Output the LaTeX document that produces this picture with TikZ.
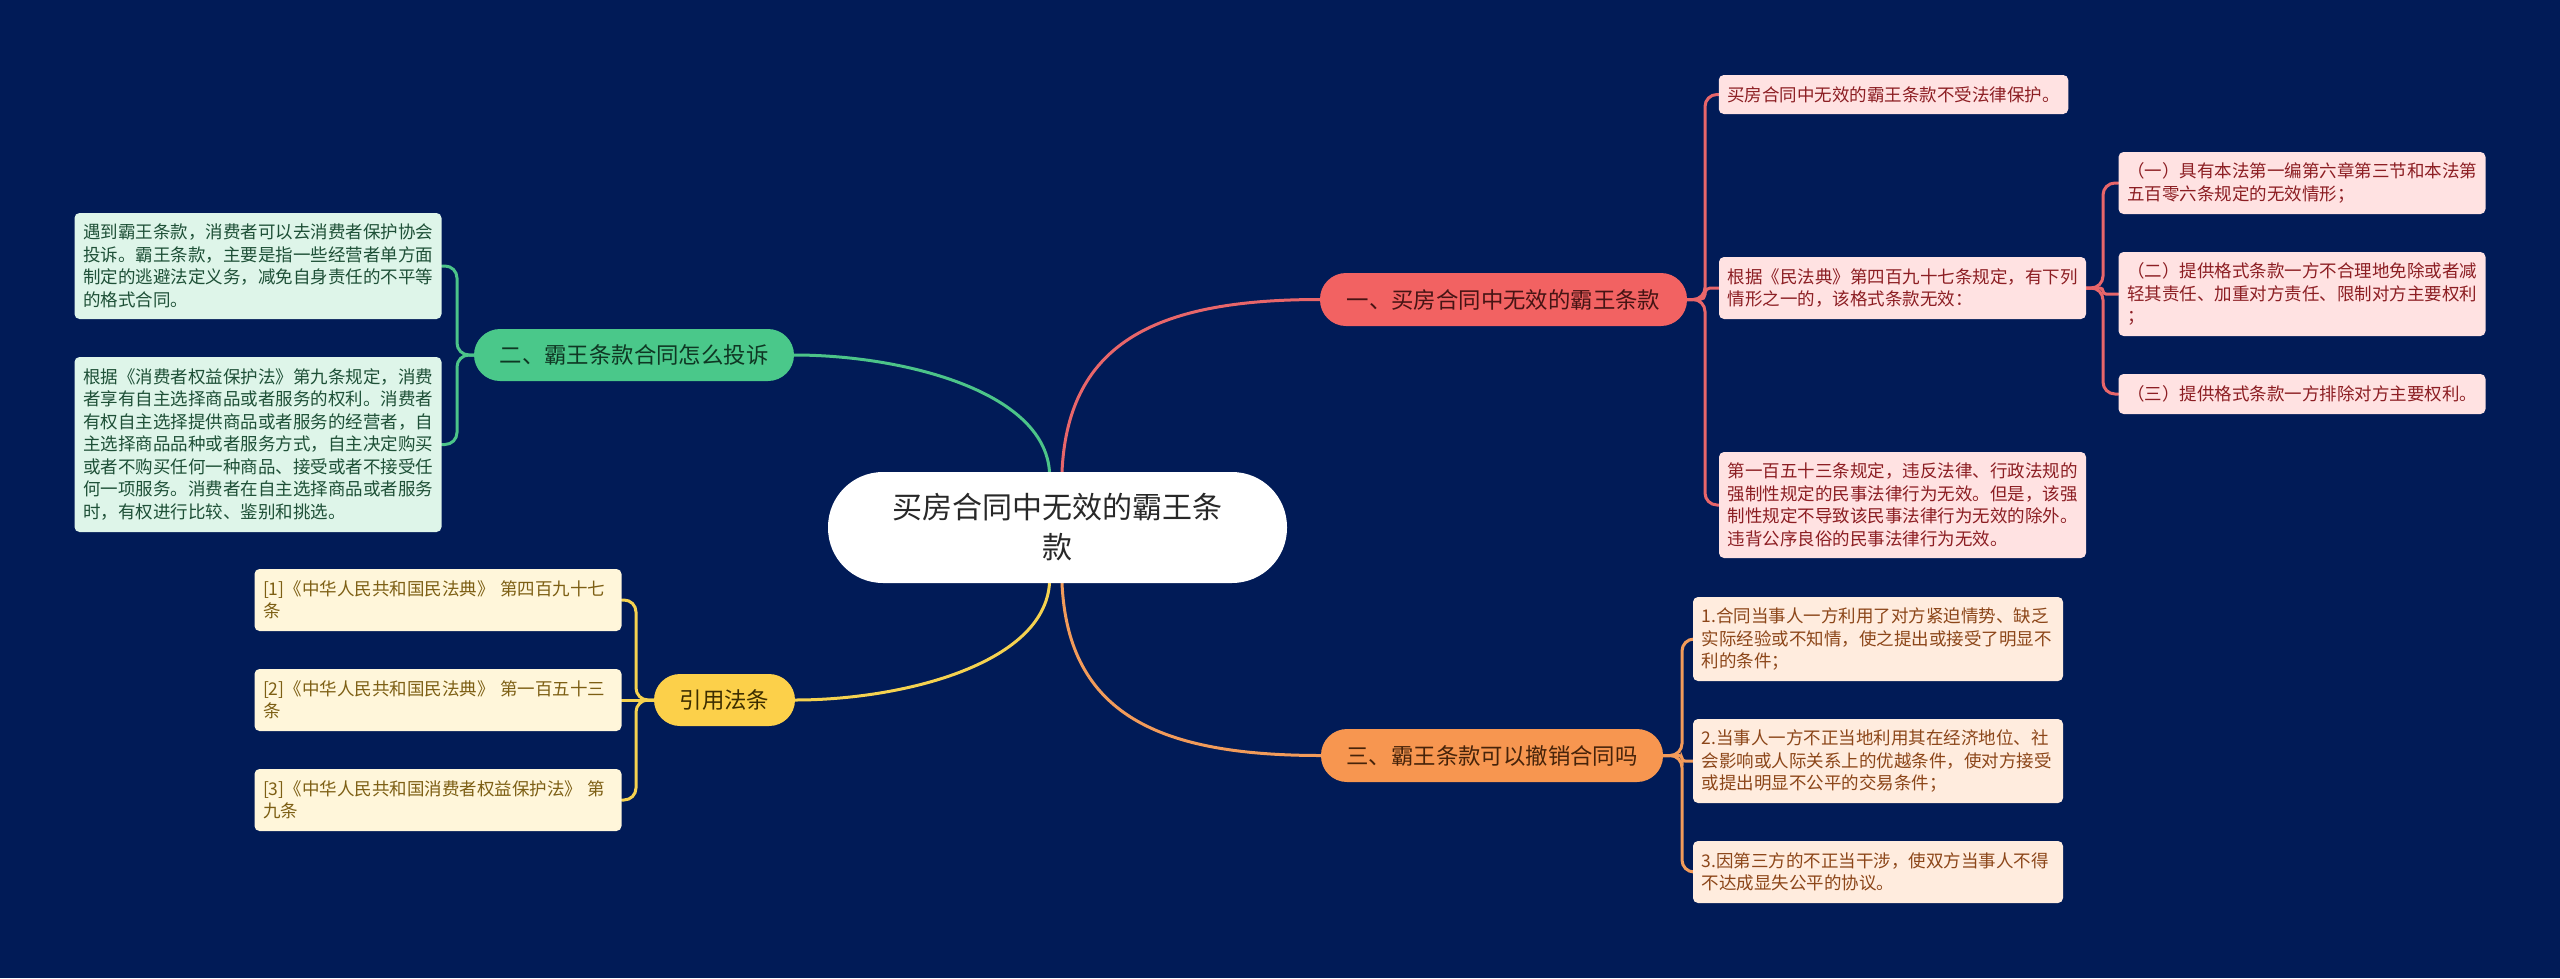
\documentclass[tikz,border=0pt]{standalone}
\usepackage{fontspec}
\setmainfont{Noto Sans CJK SC}
\usetikzlibrary{calc}
\definecolor{bgc}{RGB}{1,27,87}
\definecolor{pinkfill}{RGB}{255,226,226}
\definecolor{pinktext}{RGB}{140,30,35}
\definecolor{peachfill}{RGB}{255,236,222}
\definecolor{peachtext}{RGB}{140,70,25}
\definecolor{greenfill}{RGB}{222,245,233}
\definecolor{greentext}{RGB}{30,80,55}
\definecolor{yellowfill}{RGB}{255,246,218}
\definecolor{yellowtext}{RGB}{125,95,20}
\definecolor{bredfill}{RGB}{242,98,98}
\definecolor{bredtext}{RGB}{70,20,20}
\definecolor{borgfill}{RGB}{247,150,80}
\definecolor{borgtext}{RGB}{70,35,10}
\definecolor{bgrnfill}{RGB}{74,200,138}
\definecolor{bgrntext}{RGB}{15,55,35}
\definecolor{byelfill}{RGB}{252,208,74}
\definecolor{byeltext}{RGB}{60,45,0}
\definecolor{redline}{RGB}{232,102,106}
\definecolor{orgline}{RGB}{242,155,90}
\definecolor{grnline}{RGB}{76,196,137}
\definecolor{yelline}{RGB}{245,210,80}
\pgfdeclarelayer{bgl}
\pgfdeclarelayer{lines}
\pgfsetlayers{bgl,lines,main}
\begin{document}
\begin{tikzpicture}[x=1pt,y=-1pt,
  leaf/.style={rounded corners=5pt, inner xsep=8.5pt, inner ysep=0pt, align=left,
    text width=350pt, font=\fontsize{17.5}{22.5}\selectfont},
  pinkleaf/.style={leaf, fill=pinkfill, text=pinktext},
  peachleaf/.style={leaf, fill=peachfill, text=peachtext},
  greenleaf/.style={leaf, fill=greenfill, text=greentext},
  yellowleaf/.style={leaf, fill=yellowfill, text=yellowtext},
  branch/.style={rounded corners=26pt, inner sep=0pt, minimum height=53pt,
    font=\fontsize{22.4}{27}\selectfont},
  conn/.style={line width=3pt, line cap=round},
  bconn/.style={conn, rounded corners=12pt}
]
\begin{pgfonlayer}{bgl}
\fill[bgc] (0,0) rectangle (2560,978);
\end{pgfonlayer}
\useasboundingbox (0,0) rectangle (2560,978);

% center
\node[fill=white, rounded corners=55pt, minimum width=459pt, minimum height=111pt,
  inner sep=0pt, align=center, text={rgb,255:red,40;green,40;blue,40},
  font=\fontsize{30}{40}\selectfont] (c) at (1057.5,527.5) {买房合同中无效的霸王条\\款};

% branches
\node[branch, fill=bredfill, text=bredtext, minimum width=367pt] (b1) at (1503.5,299.5) {一、买房合同中无效的霸王条款};
\node[branch, fill=borgfill, text=borgtext, minimum width=342pt] (b3) at (1492,755.5) {三、霸王条款可以撤销合同吗};
\node[branch, fill=bgrnfill, text=bgrntext, minimum width=320pt, minimum height=52pt] (b2) at (634,355) {二、霸王条款合同怎么投诉};
\node[branch, fill=byelfill, text=byeltext, minimum width=141pt, minimum height=52pt] (b4) at (724.5,700) {引用法条};

% branch 1 leaves
\node[pinkleaf, text width=332.5pt, minimum height=39pt] (l1a) at (1893.5,94.5) {买房合同中无效的霸王条款不受法律保护。};
\node[pinkleaf, minimum height=62pt] (l1b) at (1902.5,288) {根据《民法典》第四百九十七条规定，有下列\\情形之一的，该格式条款无效：};
\node[pinkleaf, minimum height=106pt] (l1c) at (1902.5,505) {第一百五十三条规定，违反法律、行政法规的\\强制性规定的民事法律行为无效。但是，该强\\制性规定不导致该民事法律行为无效的除外。\\违背公序良俗的民事法律行为无效。};
\node[pinkleaf, minimum height=62pt] (s1) at (2302,183) {（一）具有本法第一编第六章第三节和本法第\\五百零六条规定的无效情形；};
\node[pinkleaf, minimum height=84pt] (s2) at (2302,294) {（二）提供格式条款一方不合理地免除或者减\\轻其责任、加重对方责任、限制对方主要权利\\；};
\node[pinkleaf, minimum height=40pt] (s3) at (2302,394) {（三）提供格式条款一方排除对方主要权利。};

% branch 3 leaves
\node[peachleaf, text width=353pt, minimum height=84pt] (l3a) at (1878,639) {1.合同当事人一方利用了对方紧迫情势、缺乏\\实际经验或不知情，使之提出或接受了明显不\\利的条件；};
\node[peachleaf, text width=353pt, minimum height=84pt] (l3b) at (1878,761) {2.当事人一方不正当地利用其在经济地位、社\\会影响或人际关系上的优越条件，使对方接受\\或提出明显不公平的交易条件；};
\node[peachleaf, text width=353pt, minimum height=62pt] (l3c) at (1878,872) {3.因第三方的不正当干涉，使双方当事人不得\\不达成显失公平的协议。};

% branch 2 leaves
\node[greenleaf, minimum height=106pt] (l2a) at (258,266) {遇到霸王条款，消费者可以去消费者保护协会\\投诉。霸王条款，主要是指一些经营者单方面\\制定的逃避法定义务，减免自身责任的不平等\\的格式合同。};
\node[greenleaf, minimum height=175pt] (l2b) at (258,444.5) {根据《消费者权益保护法》第九条规定，消费\\者享有自主选择商品或者服务的权利。消费者\\有权自主选择提供商品或者服务的经营者，自\\主选择商品品种或者服务方式，自主决定购买\\或者不购买任何一种商品、接受或者不接受任\\何一项服务。消费者在自主选择商品或者服务\\时，有权进行比较、鉴别和挑选。};

% branch 4 leaves
\node[yellowleaf, minimum height=62pt] (l4a) at (438,600) {[1]《中华人民共和国民法典》 第四百九十七\\条};
\node[yellowleaf, minimum height=62pt] (l4b) at (438,700) {[2]《中华人民共和国民法典》 第一百五十三\\条};
\node[yellowleaf, minimum height=62pt] (l4c) at (438,800) {[3]《中华人民共和国消费者权益保护法》 第\\九条};

\begin{pgfonlayer}{lines}
% center to branches
\draw[conn, redline] ($(c.north)+(4.5,0)$) .. controls (1068,340) and (1160,299.5) .. (b1.west);
\draw[conn, grnline] ($(c.north)+(-8,0)$) .. controls (1044,390) and (900,355) .. (b2.east);
\draw[conn, yelline] ($(c.south)+(-8,0)$) .. controls (1044,665) and (900,700) .. (b4.east);
\draw[conn, orgline] ($(c.south)+(4.5,0)$) .. controls (1068,715) and (1160,755.5) .. (b3.west);
% branch 1
\draw[bconn, redline] (b1.east) -- (1705,299.5) |- (l1a.west);
\draw[conn, redline, rounded corners=5pt] (b1.east) -- (1705,299.5) |- (l1b.west);
\draw[bconn, redline] (b1.east) -- (1705,299.5) |- (l1c.west);
\draw[bconn, redline] (l1b.east) -- (2103,288) |- (s1.west);
\draw[conn, redline, rounded corners=3pt] (l1b.east) -- (2103,288) |- (s2.west);
\draw[bconn, redline] (l1b.east) -- (2103,288) |- (s3.west);
% branch 3
\draw[bconn, orgline] (b3.east) -- (1682,755.5) |- (l3a.west);
\draw[conn, orgline, rounded corners=3pt] (b3.east) -- (1682,755.5) |- (l3b.west);
\draw[bconn, orgline] (b3.east) -- (1682,755.5) |- (l3c.west);
% branch 2
\draw[bconn, grnline] (b2.west) -- (457,355) |- (l2a.east);
\draw[bconn, grnline] (b2.west) -- (457,355) |- (l2b.east);
% branch 4
\draw[bconn, yelline] (b4.west) -- (636,700) |- (l4a.east);
\draw[bconn, yelline] (b4.west) -- (l4b.east);
\draw[bconn, yelline] (b4.west) -- (636,700) |- (l4c.east);
\end{pgfonlayer}
\end{tikzpicture}
\end{document}
